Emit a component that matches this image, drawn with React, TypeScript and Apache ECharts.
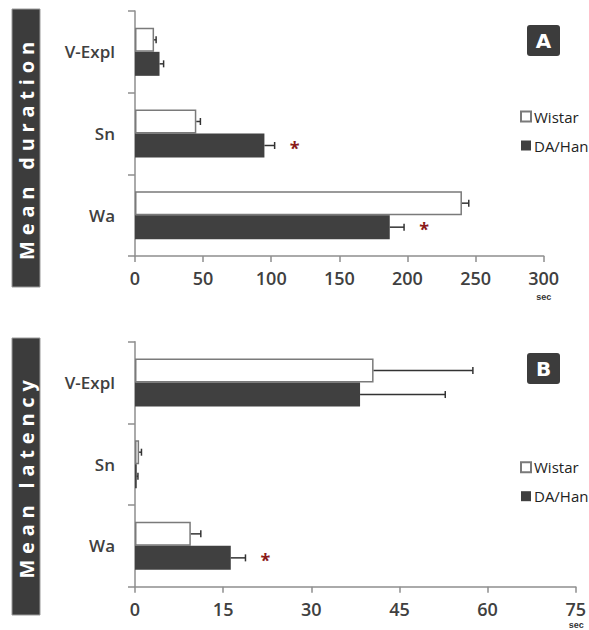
import React, { useEffect, useRef } from "react";
import * as echarts from "echarts";

const categories = ["Wa", "Sn", "V-Expl"];
const seriesNames = ["Wistar", "DA/Han"];

const durWistar = [240, 45, 14];
const durWistarErr = [5, 3, 1.5];
const durDAHan = [187, 95, 18];
const durDAHanErr = [10.5, 7.5, 3];
const durSig = [1, 1, 0];
const durMax = 300;
const durInterval = 50;

const latWistar = [9.5, 0.7, 40.6];
const latWistarErr = [1.7, 0.4, 16.9];
const latDAHan = [16.3, 0.3, 38.3];
const latDAHanErr = [2.5, 0.2, 14.5];
const latSig = [1, 0, 0];
const latMax = 75;
const latInterval = 15;

const panelTitles = ["Mean duration", "Mean latency"];
const panelLetters = ["A", "B"];
const unitLabel = "sec";

const FONT = '"Open Sans", "DejaVu Sans", sans-serif';
const DARK = "#404040";
const AXIS = "#8e8e8e";

function errData(w: number[], we: number[], d: number[], de: number[], sig: number[]) {
  const out: number[][] = [];
  categories.forEach((_, i) => {
    out.push([w[i], i, we[i], 0, 0]);
    out.push([d[i], i, de[i], 1, sig[i]]);
  });
  return out;
}

const renderErr = (params: any, api: any) => {
  const v = api.value(0);
  const c = api.value(1);
  const e = api.value(2);
  const g = api.value(3);
  const s = api.value(4);
  const p0 = api.coord([v, c]);
  const p1 = api.coord([v + e, c]);
  const yc = p0[1] + (g === 0 ? -12 : 12);
  const st = { stroke: "#333", lineWidth: 1.5 };
  const children: any[] = [
    { type: "line", shape: { x1: p0[0], y1: yc, x2: p1[0], y2: yc }, style: st },
    { type: "line", shape: { x1: p1[0], y1: yc - 3.5, x2: p1[0], y2: yc + 3.5 }, style: st },
  ];
  if (s) {
    children.push({
      type: "text",
      x: p1[0] + 20,
      y: yc + 2,
      style: {
        text: "*",
        fill: "#8b1a1a",
        font: `bold 18px ${FONT}`,
        align: "center",
        verticalAlign: "middle",
        textAlign: "center",
        textVerticalAlign: "middle",
      },
    });
  }
  return { type: "group", children };
};

function makeAxes(idx: number, max: number, interval: number) {
  const xAxis = {
    type: "value",
    gridIndex: idx,
    min: 0,
    max,
    interval,
    splitLine: { show: false },
    axisLine: { show: true, lineStyle: { color: AXIS, width: 1.5 } },
    axisTick: { show: true, length: 6, lineStyle: { color: AXIS, width: 1.5 } },
    axisLabel: { color: DARK, fontFamily: FONT, fontWeight: 600, fontSize: 18, margin: 13 },
  };
  const yAxis = {
    type: "category",
    gridIndex: idx,
    data: categories,
    axisLine: { show: true, lineStyle: { color: AXIS, width: 1.5 } },
    axisTick: { show: true, length: 7, lineStyle: { color: AXIS, width: 1.5 } },
    axisLabel: { color: DARK, fontFamily: FONT, fontWeight: 600, fontSize: 17, margin: 20 },
  };
  return { xAxis, yAxis };
}

function makeBars(idx: number, w: number[], d: number[]) {
  return [
    {
      name: seriesNames[0],
      type: "bar",
      xAxisIndex: idx,
      yAxisIndex: idx,
      data: w,
      barWidth: 24,
      barGap: "0%",
      itemStyle: { color: "#ffffff", borderColor: "#7a7a7a", borderWidth: 1.5 },
    },
    {
      name: seriesNames[1],
      type: "bar",
      xAxisIndex: idx,
      yAxisIndex: idx,
      data: d,
      barWidth: 24,
      barGap: "0%",
      itemStyle: { color: DARK, borderColor: DARK, borderWidth: 0 },
    },
  ];
}

export default function App() {
  const ref = useRef<HTMLDivElement>(null);
  useEffect(() => {
    if (!ref.current) return;
    const chart = echarts.init(ref.current, undefined, { renderer: "svg" });
    const a = makeAxes(0, durMax, durInterval);
    const b = makeAxes(1, latMax, latInterval);
    const legendBase = {
      orient: "vertical",
      left: 515,
      itemWidth: 10,
      itemHeight: 10,
      itemGap: 14,
      icon: "rect",
      data: seriesNames,
      selectedMode: false,
      textStyle: { color: "#222", fontFamily: FONT, fontSize: 15, padding: [0, 0, 0, -2] },
    };
    const sideLabel = (title: string, top: number, h: number) => ({
      type: "group",
      children: [
        {
          type: "rect",
          shape: { x: 12, y: top, width: 28, height: h },
          style: { fill: "#3c3c3c", stroke: "#9a9a9a", lineWidth: 1 },
        },
        {
          type: "text",
          x: 26,
          y: top + h / 2,
          rotation: Math.PI / 2,
          style: {
            text: title,
            fill: "#ffffff",
            font: `bold 20px ${FONT}`,
            align: "center",
            verticalAlign: "middle",
            textAlign: "center",
            textVerticalAlign: "middle",
          },
        },
      ],
    });
    const badge = (letter: string, top: number) => ({
      type: "group",
      children: [
        {
          type: "rect",
          shape: { x: 527, y: top, width: 33, height: 31, r: 3 },
          style: { fill: "#3c3c3c" },
        },
        {
          type: "text",
          x: 543.5,
          y: top + 15.5,
          style: {
            text: letter,
            fill: "#ffffff",
            font: `bold 20px "DejaVu Sans", sans-serif`,
            align: "center",
            verticalAlign: "middle",
            textAlign: "center",
            textVerticalAlign: "middle",
          },
        },
      ],
    });
    const unit = (x: number, y: number) => ({
      type: "text",
      x,
      y,
      style: {
        text: unitLabel,
        fill: "#333",
        font: `bold 9px "Liberation Sans", Arial, sans-serif`,
        align: "center",
        verticalAlign: "middle",
        textAlign: "center",
        textVerticalAlign: "middle",
      },
    });
    chart.setOption({
      animation: false,
      backgroundColor: "#ffffff",
      grid: [
        { left: 135, right: 45.3, top: 11, height: 245, containLabel: false },
        { left: 135, right: 12.7, top: 341.7, height: 245, containLabel: false },
      ],
      xAxis: [a.xAxis, b.xAxis],
      yAxis: [a.yAxis, b.yAxis],
      legend: [
        { ...legendBase, top: 104 },
        { ...legendBase, top: 454.7 },
      ],
      graphic: [
        sideLabel(panelTitles[0], 9, 278),
        sideLabel(panelTitles[1], 338, 277),
        badge(panelLetters[0], 25),
        badge(panelLetters[1], 353),
        unit(543.7, 297),
        unit(576.3, 624.5),
      ],
      series: [
        ...makeBars(0, durWistar, durDAHan),
        ...makeBars(1, latWistar, latDAHan),
        {
          type: "custom",
          xAxisIndex: 0,
          yAxisIndex: 0,
          renderItem: renderErr,
          data: errData(durWistar, durWistarErr, durDAHan, durDAHanErr, durSig),
          encode: { x: 0, y: 1 },
          z: 5,
          silent: true,
        },
        {
          type: "custom",
          xAxisIndex: 1,
          yAxisIndex: 1,
          renderItem: renderErr,
          data: errData(latWistar, latWistarErr, latDAHan, latDAHanErr, latSig),
          encode: { x: 0, y: 1 },
          z: 5,
          silent: true,
        },
      ],
    } as any);
    const spaceTitles = () => {
      if (!ref.current) return;
      ref.current.querySelectorAll("text").forEach((t) => {
        const s = (t.textContent || "").trim();
        if (panelTitles.includes(s)) {
          t.setAttribute("letter-spacing", "5.8");
        }
      });
    };
    spaceTitles();
    chart.on("finished", spaceTitles);
    const tm = setTimeout(spaceTitles, 50);
    return () => {
      clearTimeout(tm);
      chart.dispose();
    };
  }, []);
  return (
    <div
      ref={ref}
      style={{ position: "fixed", left: 0, top: 0, width: 589, height: 630, background: "#fff" }}
    />
  );
}
